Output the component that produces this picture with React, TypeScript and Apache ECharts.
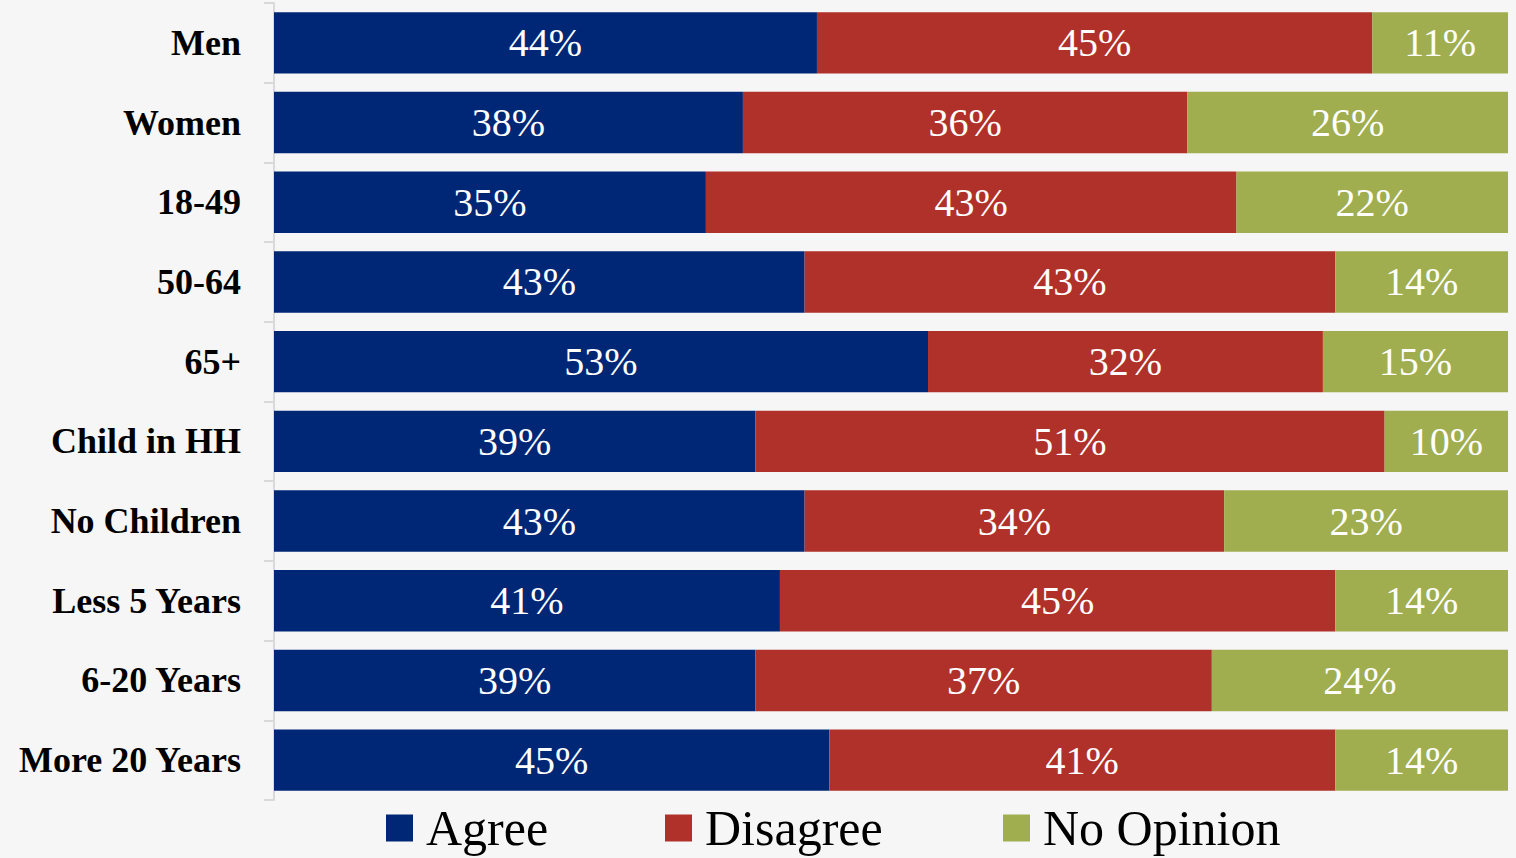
import React, { useEffect, useRef } from "react";
import * as echarts from "echarts";

const categories = ["Men", "Women", "18-49", "50-64", "65+", "Child in HH", "No Children", "Less 5 Years", "6-20 Years", "More 20 Years"];
const agree = [44, 38, 35, 43, 53, 39, 43, 41, 39, 45];
const disagree = [45, 36, 43, 43, 32, 51, 34, 45, 37, 41];
const noOpinion = [11, 26, 22, 14, 15, 10, 23, 14, 24, 14];
const seriesNames = ["Agree", "Disagree", "No Opinion"];
const seriesColors = ["#002776", "#b0312a", "#a0ae50"];

const SERIF = "Liberation Serif";

export default function App() {
  const ref = useRef<HTMLDivElement>(null);
  useEffect(() => {
    if (!ref.current) return;
    const chart = echarts.init(ref.current, null, { renderer: "svg" });
    const mk = (name: string, data: number[], color: string) => ({
      name,
      type: "bar",
      stack: "total",
      data,
      barWidth: "77%",
      itemStyle: { color },
      label: {
        show: true,
        position: "inside",
        formatter: "{c}%",
        color: "#ffffff",
        fontSize: 40,
        fontFamily: SERIF,
        fontWeight: "normal",
      },
    });
    const legendLefts = [381, 660, 998];
    chart.setOption({
      animation: false,
      backgroundColor: "#f6f6f6",
      textStyle: { fontFamily: SERIF },
      grid: { left: 274, right: 8, top: 3, bottom: 58, containLabel: false },
      xAxis: { type: "value", min: 0, max: 100, show: false },
      yAxis: {
        type: "category",
        data: categories,
        inverse: true,
        axisLine: { show: true, lineStyle: { color: "#d9d9d9", width: 2 } },
        axisTick: { show: true, length: 10, lineStyle: { color: "#d9d9d9", width: 2 } },
        axisLabel: { margin: 33, color: "#000000", fontSize: 36, fontWeight: "bold", fontFamily: SERIF },
      },
      legend: seriesNames.map((n, i) => ({
        left: legendLefts[i],
        top: 797,
        itemWidth: 27,
        itemHeight: 27,
        icon: "rect",
        textStyle: { fontSize: 50, lineHeight: 52, fontFamily: SERIF, color: "#000000", padding: [0, 0, 0, 8] },
        data: [n],
      })),
      series: [
        mk(seriesNames[0], agree, seriesColors[0]),
        mk(seriesNames[1], disagree, seriesColors[1]),
        mk(seriesNames[2], noOpinion, seriesColors[2]),
      ],
    });
    return () => chart.dispose();
  }, []);
  return <div ref={ref} style={{ position: "fixed", left: 0, top: 0, width: 1516, height: 858 }} />;
}
